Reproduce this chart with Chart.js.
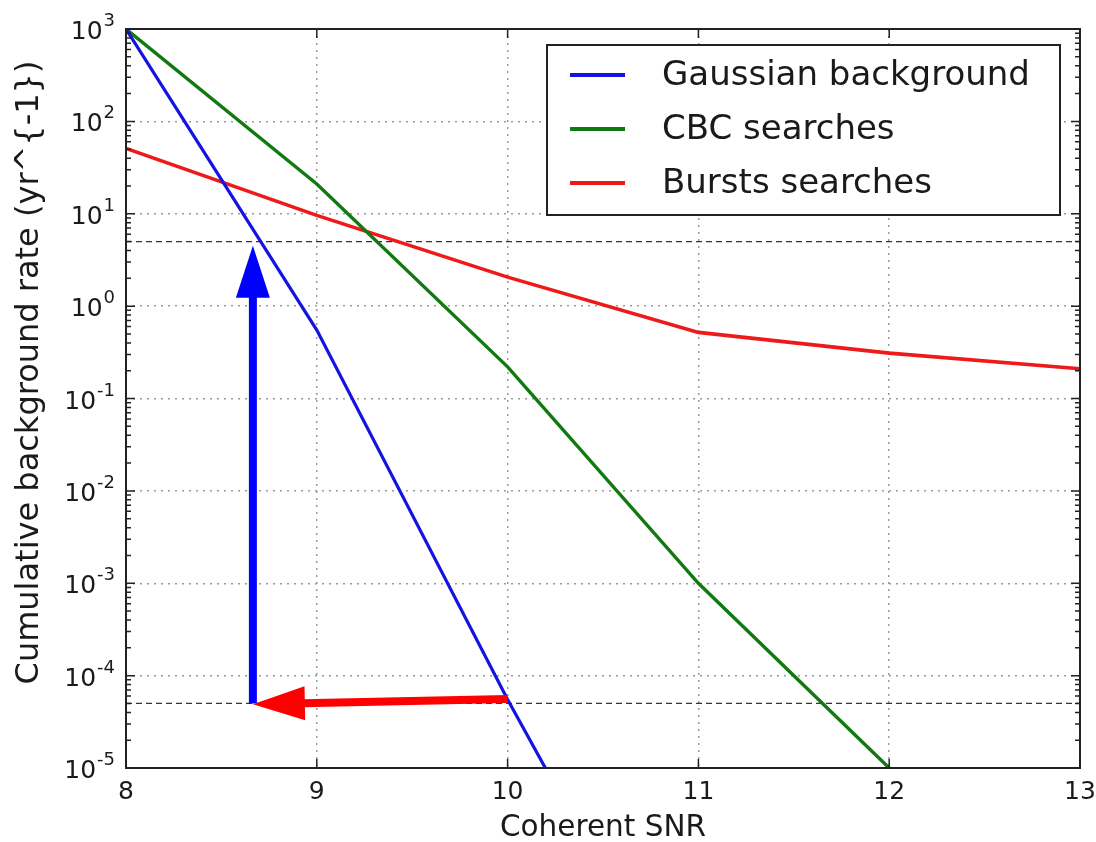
<!DOCTYPE html>
<html>
<head>
<meta charset="utf-8">
<script src="https://cdn.jsdelivr.net/npm/chart.js@4.4.0/dist/chart.umd.min.js"></script>
<style>
  html, body { margin: 0; padding: 0; background: #fff; }
  #wrap { width: 1096px; height: 842px; }
</style>
</head>
<body>
<div id="wrap"><canvas id="rateChart" width="1096" height="842"></canvas></div>
<script>
// cumulative background rate vs coherent SNR
const snrGaussian = [8, 9, 10, 11];
const gaussianRate = [1000, 0.55, 5.5e-5, 1e-8];
const snrCbc = [8, 9, 10, 11, 12];
const cbcRate = [1000, 21, 0.22, 1e-3, 1e-5];
const snrBursts = [8, 9, 10, 11, 12, 13];
const burstRate = [51, 9.6, 2.06, 0.52, 0.31, 0.21];

const seriesLabels = ['Gaussian background', 'CBC searches', 'Bursts searches'];
const seriesColors = ['#1414e0', '#107a10', '#ee1a1a'];

// horizontal reference rates (dashed)
const thresholdRates = [5, 5e-5];

const xTicks = [8, 9, 10, 11, 12, 13];
const yExponents = [-5, -4, -3, -2, -1, 0, 1, 2, 3];
const yTitle = 'Cumulative background rate (yr^{-1})';

// arrows in data units: [x0, y0, x1, y1], tip at (x1, y1)
const upArrow = [8.665, 5e-5, 8.665, 4.5];
const leftArrow = [10, 5.6e-5, 8.665, 4.9e-5];

const FONT = "'DejaVu Sans', 'Liberation Sans', sans-serif";
const TEXT = '#1a1a1a';

const toPoints = (xs, ys) => xs.map((x, i) => ({x: x, y: ys[i]}));

const datasets = [
    {label: seriesLabels[0], data: toPoints(snrGaussian, gaussianRate), borderColor: seriesColors[0], borderWidth: 3.2, order: 1},
    {label: seriesLabels[1], data: toPoints(snrCbc, cbcRate), borderColor: seriesColors[1], borderWidth: 3.4, order: 1},
    {label: seriesLabels[2], data: toPoints(snrBursts, burstRate), borderColor: seriesColors[2], borderWidth: 3.6, order: 1}
];
thresholdRates.forEach(r => {
    datasets.push({
        label: '',
        data: [{x: xTicks[0], y: r}, {x: xTicks[xTicks.length - 1], y: r}],
        borderColor: '#333',
        borderWidth: 1.2,
        borderDash: [6, 4],
        order: 5
    });
});

function drawArrow(ctx, xs, ys, a, color) {
    const x0 = xs.getPixelForValue(a[0]), y0 = ys.getPixelForValue(a[1]);
    const x1 = xs.getPixelForValue(a[2]), y1 = ys.getPixelForValue(a[3]);
    const len = Math.hypot(x1 - x0, y1 - y0);
    const ux = (x1 - x0) / len, uy = (y1 - y0) / len;
    const headLen = 52, headHalf = 17, shaft = 8;
    const bx = x1 - ux * headLen, by = y1 - uy * headLen;
    ctx.save();
    ctx.strokeStyle = color;
    ctx.fillStyle = color;
    ctx.lineWidth = shaft;
    ctx.lineCap = 'butt';
    ctx.beginPath();
    ctx.moveTo(x0, y0);
    ctx.lineTo(bx + ux * 2, by + uy * 2);
    ctx.stroke();
    ctx.beginPath();
    ctx.moveTo(x1, y1);
    ctx.lineTo(bx - uy * headHalf, by + ux * headHalf);
    ctx.lineTo(bx + uy * headHalf, by - ux * headHalf);
    ctx.closePath();
    ctx.fill();
    ctx.restore();
}

const decorations = {
    id: 'decorations',
    afterDatasetsDraw(chart) {
        const {ctx, scales: {x, y}} = chart;
        drawArrow(ctx, x, y, upArrow, '#0000ff');
        drawArrow(ctx, x, y, leftArrow, '#ff0000');
    },
    afterDraw(chart) {
        const {ctx, chartArea: area, scales: {x, y}} = chart;
        ctx.save();

        // frame
        ctx.strokeStyle = '#222';
        ctx.lineWidth = 2;
        ctx.strokeRect(area.left, area.top, area.right - area.left, area.bottom - area.top);

        // inward tick marks
        ctx.lineWidth = 1.5;
        ctx.beginPath();
        xTicks.forEach(v => {
            const px = x.getPixelForValue(v);
            ctx.moveTo(px, area.bottom); ctx.lineTo(px, area.bottom - 9);
            ctx.moveTo(px, area.top); ctx.lineTo(px, area.top + 9);
        });
        yExponents.forEach(e => {
            const py = y.getPixelForValue(Math.pow(10, e));
            ctx.moveTo(area.left, py); ctx.lineTo(area.left + 9, py);
            ctx.moveTo(area.right, py); ctx.lineTo(area.right - 9, py);
            if (e < yExponents[yExponents.length - 1]) {
                for (let m = 2; m <= 9; m++) {
                    const pm = y.getPixelForValue(m * Math.pow(10, e));
                    ctx.moveTo(area.left, pm); ctx.lineTo(area.left + 5, pm);
                    ctx.moveTo(area.right, pm); ctx.lineTo(area.right - 5, pm);
                }
            }
        });
        ctx.stroke();

        // y tick labels as 10^n
        ctx.fillStyle = TEXT;
        ctx.textBaseline = 'alphabetic';
        yExponents.forEach(e => {
            const py = y.getPixelForValue(Math.pow(10, e));
            const sup = String(e);
            ctx.font = `18px ${FONT}`;
            const supW = ctx.measureText(sup).width;
            const right = area.left - 11;
            ctx.textAlign = 'right';
            ctx.fillText(sup, right, py - 3);
            ctx.font = `25px ${FONT}`;
            ctx.fillText('10', right - supW - 1, py + 10);
        });

        // y axis title
        ctx.save();
        ctx.translate(30, (area.top + area.bottom) / 2 - 26);
        ctx.rotate(-Math.PI / 2);
        ctx.font = `32px ${FONT}`;
        ctx.textAlign = 'center';
        ctx.textBaseline = 'middle';
        ctx.fillText(yTitle, 0, 0);
        ctx.restore();

        // legend box
        const items = chart.data.datasets.filter(d => d.label);
        const boxW = 513, boxH = 170;
        const bx = area.right - 20 - boxW, by = area.top + 16;
        ctx.fillStyle = '#fff';
        ctx.fillRect(bx, by, boxW, boxH);
        ctx.strokeStyle = '#222';
        ctx.lineWidth = 2;
        ctx.strokeRect(bx, by, boxW, boxH);
        ctx.font = `34px ${FONT}`;
        ctx.textAlign = 'left';
        ctx.textBaseline = 'middle';
        items.forEach((d, i) => {
            const ry = by + 30 + i * 54;
            ctx.strokeStyle = d.borderColor;
            ctx.lineWidth = 4;
            ctx.beginPath();
            ctx.moveTo(bx + 23, ry);
            ctx.lineTo(bx + 78, ry);
            ctx.stroke();
            ctx.fillStyle = TEXT;
            ctx.fillText(d.label, bx + 115, ry + 1);
        });
        ctx.restore();
    }
};

new Chart(document.getElementById('rateChart'), {
    type: 'line',
    data: {datasets: datasets},
    options: {
        responsive: false,
        animation: false,
        layout: {padding: {top: 29, right: 16, left: 0, bottom: 0}},
        elements: {
            line: {tension: 0, fill: false},
            point: {radius: 0, hoverRadius: 0}
        },
        plugins: {
            legend: {display: false},
            tooltip: {enabled: false}
        },
        scales: {
            x: {
                type: 'linear',
                min: 8,
                max: 13,
                afterBuildTicks: s => { s.ticks = xTicks.map(v => ({value: v})); },
                afterFit: s => { s.height = 74; s.paddingLeft = 0; s.paddingRight = 0; },
                grid: {color: '#9a9a9a', lineWidth: 1.5, drawTicks: false, borderDash: [2, 5]},
                border: {display: false, dash: [2, 5]},
                ticks: {color: TEXT, padding: 9, font: {family: FONT, size: 25}, maxRotation: 0},
                title: {
                    display: true,
                    text: 'Coherent SNR',
                    color: TEXT,
                    font: {family: FONT, size: 29.5},
                    padding: {top: 0, bottom: -4}
                }
            },
            y: {
                type: 'logarithmic',
                min: 1e-5,
                max: 1e3,
                afterBuildTicks: s => { s.ticks = yExponents.map(e => ({value: Math.pow(10, e)})); },
                afterFit: s => { s.width = 126; s.paddingTop = 0; s.paddingBottom = 0; },
                grid: {color: '#9a9a9a', lineWidth: 1.5, drawTicks: false, borderDash: [2, 5]},
                border: {display: false, dash: [2, 5]},
                ticks: {display: false}
            }
        }
    },
    plugins: [decorations]
});
</script>
</body>
</html>
